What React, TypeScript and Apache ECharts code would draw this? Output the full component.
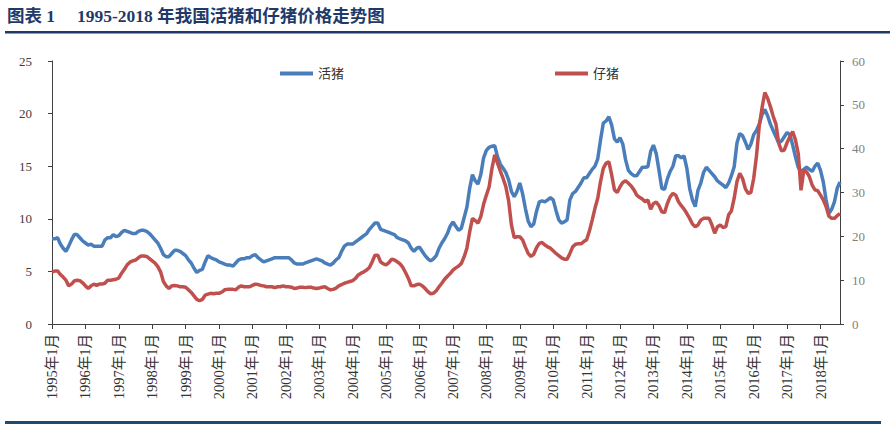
import React, { useEffect, useRef } from "react";
import * as echarts from "echarts";

const years = [1995, 1996, 1997, 1998, 1999, 2000, 2001, 2002, 2003, 2004, 2005, 2006, 2007, 2008, 2009, 2010, 2011, 2012, 2013, 2014, 2015, 2016, 2017, 2018];
const lastYearMonths = 8;

// 活猪 (left axis, 元/kg)
const livePig = [
  8.1, 8.1, 8.2, 7.6, 7.2, 6.9, 7.4, 8.0, 8.5, 8.5, 8.2, 7.9,
  7.7, 7.5, 7.6, 7.4, 7.4, 7.4, 7.4, 8.0, 8.2, 8.2, 8.5, 8.3,
  8.4, 8.7, 8.9, 8.8, 8.7, 8.6, 8.6, 8.8, 8.9, 8.9, 8.8, 8.6,
  8.3, 8.0, 7.7, 7.2, 6.6, 6.4, 6.4, 6.7, 7.0, 7.0, 6.9, 6.7,
  6.5, 6.1, 5.8, 5.3, 4.9, 5.1, 5.2, 5.9, 6.5, 6.3, 6.2, 6.1,
  5.9, 5.8, 5.7, 5.6, 5.6, 5.5, 5.8, 6.1, 6.2, 6.2, 6.3, 6.3,
  6.5, 6.6, 6.3, 6.1, 5.9, 6.0, 6.1, 6.2, 6.3, 6.3, 6.3, 6.3,
  6.3, 6.3, 6.1, 5.8, 5.7, 5.7, 5.7, 5.8, 5.9, 6.0, 6.1, 6.2,
  6.1, 6.0, 5.8, 5.7, 5.6, 5.8, 6.1, 6.3, 6.9, 7.4, 7.6, 7.6,
  7.6, 7.8, 8.0, 8.2, 8.4, 8.6, 9.0, 9.3, 9.6, 9.6, 9.0, 8.9,
  8.8, 8.7, 8.6, 8.5, 8.2, 8.1, 8.0, 7.9, 7.7, 7.2, 6.9, 7.2,
  7.3, 6.9, 6.5, 6.2, 6.0, 6.2, 6.5, 7.2, 7.7, 8.1, 8.6, 9.3,
  9.7, 9.3, 8.9, 9.1, 10.1, 11.1, 12.9, 14.2, 13.6, 13.3, 14.2, 15.8,
  16.5, 16.8, 16.9, 16.95, 15.9, 15.2, 14.8, 14.4, 13.7, 12.6, 12.1, 12.6,
  13.4, 12.4, 11.0, 9.8, 9.25, 9.5, 10.7, 11.6, 11.7, 11.6, 11.8, 12.0,
  11.8, 10.8, 9.9, 9.6, 9.7, 9.9, 11.8, 12.4, 12.6, 13.0, 13.4, 13.9,
  13.9, 14.3, 14.7, 15.0, 15.7, 17.5, 19.1, 19.3, 19.7, 18.9, 17.6, 17.3,
  17.7, 17.1, 15.6, 14.6, 14.3, 14.1, 14.1, 14.5, 14.9, 14.9, 14.95, 16.4,
  17.0, 16.2, 14.6, 12.9, 12.8, 13.8, 14.5, 15.0, 16.0, 16.0, 15.8, 15.97,
  14.8, 12.9, 11.8, 11.15, 12.7, 13.4, 14.4, 14.9, 14.6, 14.3, 14.0, 13.6,
  13.4, 13.2, 12.97, 13.4, 14.1, 14.95, 17.2, 18.1, 17.9, 17.3, 16.6, 17.1,
  18.0, 18.4, 18.98, 19.9, 20.4, 19.8, 19.0, 18.4, 17.8, 17.2, 17.4, 17.8,
  18.2, 18.0, 17.0, 15.9, 14.9, 14.5, 14.7, 14.9, 14.7, 14.5, 15.0, 15.3,
  14.6, 13.5, 11.8, 10.5, 10.9, 11.6, 12.9, 13.5,
];

// 仔猪 (right axis, 元/kg)
const piglet = [
  11.8, 12.1, 12.1, 11.3, 10.7, 10.0, 8.7, 9.1, 9.8, 10.0, 9.9, 9.4,
  8.7, 8.1, 8.7, 9.1, 8.8, 9.1, 9.1, 9.3, 10.0, 10.0, 10.1, 10.2,
  10.5, 11.6, 12.5, 13.5, 14.1, 14.4, 14.6, 15.1, 15.5, 15.5, 15.4, 14.9,
  14.4, 13.9, 13.1, 11.9, 9.7, 8.7, 8.1, 8.7, 8.8, 8.7, 8.5, 8.5,
  8.4, 7.8, 7.2, 6.4, 5.6, 5.3, 5.6, 6.6, 6.8, 7.0, 6.9, 7.0,
  7.0, 7.3, 7.8, 7.9, 7.9, 7.9, 7.8, 8.4, 8.7, 8.5, 8.5, 8.5,
  8.8, 9.1, 9.0, 8.8, 8.7, 8.5, 8.5, 8.5, 8.3, 8.5, 8.5, 8.7,
  8.5, 8.5, 8.4, 8.1, 8.2, 8.4, 8.4, 8.3, 8.4, 8.4, 8.2, 8.1,
  8.2, 8.4, 8.5, 8.1, 7.8, 7.9, 8.2, 8.7, 9.0, 9.3, 9.5, 9.7,
  9.9, 10.4, 11.2, 11.6, 11.9, 12.3, 12.9, 14.2, 15.7, 15.7, 14.2, 13.7,
  13.5, 14.0, 14.8, 14.6, 14.2, 13.7, 12.9, 11.7, 10.4, 8.7, 8.7, 9.0,
  9.1, 8.7, 8.1, 7.4, 6.9, 7.0, 7.6, 8.5, 9.3, 10.2, 10.9, 11.5,
  12.3, 12.8, 13.2, 13.8, 15.3, 17.3, 21.0, 24.1, 23.6, 23.0, 24.5, 27.3,
  29.4, 31.3, 35.5, 38.6, 36.7, 34.9, 33.2, 31.3, 28.1, 22.6, 19.7, 19.9,
  19.9, 19.2, 17.6, 16.1, 15.4, 15.9, 17.4, 18.4, 18.6, 18.0, 17.6, 17.3,
  16.7, 16.1, 15.6, 15.1, 14.8, 14.8, 16.1, 17.6, 18.2, 18.3, 18.3, 18.8,
  19.2, 21.2, 23.7, 26.4, 28.7, 32.5, 35.5, 36.7, 37.0, 34.0, 30.6, 30.0,
  31.3, 32.3, 32.7, 32.1, 31.5, 30.6, 29.4, 28.9, 28.5, 27.9, 28.3, 26.2,
  27.5, 27.8, 27.0, 25.6, 25.4, 27.5, 29.0, 29.8, 29.4, 27.9, 27.0, 26.2,
  25.2, 24.1, 22.8, 22.2, 22.6, 23.7, 24.1, 24.1, 24.1, 22.6, 20.7, 22.2,
  22.6, 22.0, 22.2, 24.9, 25.8, 28.7, 32.5, 34.4, 33.2, 30.9, 29.8, 30.0,
  33.2, 38.3, 45.2, 49.3, 52.8, 51.5, 49.6, 47.4, 45.6, 41.2, 39.5, 39.7,
  41.4, 42.7, 43.9, 42.0, 38.9, 30.5, 35.1, 34.7, 33.6, 31.7, 30.6, 30.4,
  29.4, 28.3, 26.8, 24.6, 24.1, 24.1, 24.7, 25.2,
];

const seriesNames = ["活猪", "仔猪"];
const leftTicks = { min: 0, max: 25, interval: 5 };
const rightTicks = { min: 0, max: 60, interval: 10 };

const categories: string[] = [];
years.forEach((y, yi) => {
  const n = yi === years.length - 1 ? lastYearMonths : 12;
  for (let m = 1; m <= n; m++) categories.push(`${y}年${m}月`);
});

const SERIF = "'Liberation Serif', 'Times New Roman', 'Noto Sans CJK SC', serif";

export default function App() {
  const ref = useRef<HTMLDivElement>(null);
  useEffect(() => {
    document.body.style.margin = "0";
    if (!ref.current) return;
    const chart = echarts.init(ref.current, null, { renderer: "svg" });
    chart.setOption({
      animation: false,
      backgroundColor: "#ffffff",
      graphic: [
        {
          type: "text",
          left: 7,
          top: 7,
          style: { text: "图表 1", font: `bold 17.5px ${SERIF}`, fill: "#1f3a68" },
        },
        {
          type: "text",
          left: 77,
          top: 7,
          style: { text: "1995-2018 年我国活猪和仔猪价格走势图", font: `bold 17.5px ${SERIF}`, fill: "#1f3a68" },
        },
        { type: "rect", shape: { x: 5, y: 31, width: 885, height: 2.5 }, style: { fill: "#1f3a68" } },
        { type: "rect", shape: { x: 5, y: 421, width: 876, height: 3 }, style: { fill: "#1f4a72" } },
      ],
      legend: [
        {
          data: [seriesNames[0]],
          left: 280,
          top: 67,
          padding: 0,
          icon: "rect",
          itemWidth: 33,
          itemHeight: 4,
          textStyle: { fontSize: 13, color: "#333", fontFamily: SERIF },
        },
        {
          data: [seriesNames[1]],
          left: 555,
          top: 67,
          padding: 0,
          icon: "rect",
          itemWidth: 33,
          itemHeight: 4,
          textStyle: { fontSize: 13, color: "#333", fontFamily: SERIF },
        },
      ],
      grid: { left: 52, right: 50, top: 61, bottom: 106 },
      xAxis: {
        type: "category",
        data: categories,
        boundaryGap: false,
        axisLine: { lineStyle: { color: "#404040", width: 1 } },
        axisTick: { interval: 11, length: 5, lineStyle: { color: "#404040" } },
        axisLabel: {
          interval: 11,
          rotate: 90,
          margin: 10,
          fontSize: 14.5,
          color: "#333",
          fontFamily: SERIF,
        },
        splitLine: { show: false },
      },
      yAxis: [
        {
          type: "value",
          ...leftTicks,
          axisLine: { show: true, lineStyle: { color: "#404040", width: 1 } },
          axisTick: { show: true, length: 4, lineStyle: { color: "#404040" } },
          axisLabel: { fontSize: 13, color: "#404040", margin: 20, fontFamily: SERIF },
          splitLine: { show: false },
        },
        {
          type: "value",
          ...rightTicks,
          position: "right",
          axisLine: { show: true, lineStyle: { color: "#404040", width: 1 } },
          axisTick: { show: true, length: 4, lineStyle: { color: "#404040" } },
          axisLabel: { fontSize: 13, color: "#7f7f7f", margin: 12, fontFamily: SERIF },
          splitLine: { show: false },
        },
      ],
      series: [
        {
          name: seriesNames[0],
          type: "line",
          data: livePig,
          yAxisIndex: 0,
          showSymbol: false,
          symbol: "none",
          lineStyle: { color: "#4a7ebb", width: 3.5 },
          itemStyle: { color: "#4a7ebb" },
        },
        {
          name: seriesNames[1],
          type: "line",
          data: piglet,
          yAxisIndex: 1,
          showSymbol: false,
          symbol: "none",
          lineStyle: { color: "#c0504d", width: 3.5 },
          itemStyle: { color: "#c0504d" },
        },
      ],
    });
    return () => chart.dispose();
  }, []);
  return <div ref={ref} style={{ width: 890, height: 430 }} />;
}
